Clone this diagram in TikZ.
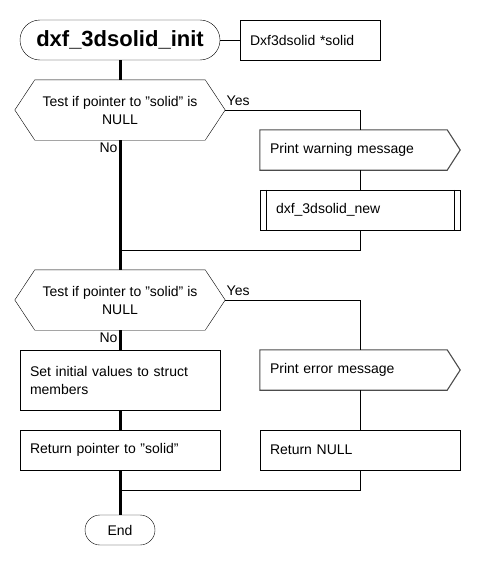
\documentclass[tikz,border=0pt]{standalone}
\usepackage{fontspec}
\setmainfont{Liberation Sans}
\usetikzlibrary{shapes.misc}
\usetikzlibrary {positioning}

\tikzset{
	terminal/.style={draw, rounded rectangle, inner sep=0pt},
	procbox/.style={draw, rectangle, minimum width=200pt, minimum height=40pt, text width=180pt, inner xsep=10pt, inner ysep=0pt, align=left},
	testbox/.style={rectangle, minimum width=210pt, minimum height=60pt, inner sep=0pt, align=center},
	msgbox/.style={rectangle, minimum width=200pt, minimum height=40pt, inner xsep=10pt, inner ysep=0pt, text width=180pt, align=left},
	msgline/.style={draw=black!70, line width=1.1pt},
	flow/.style={line width=3pt},
	link/.style={line width=1pt},
	branch/.style={inner sep=1pt, font=\fontsize{14}{16}\selectfont}
}

\begin{document}
\begin{tikzpicture}[x=1pt, y=-1pt, font=\fontsize{14}{18}\selectfont]
		\useasboundingbox (0,0) rectangle (480,570);
		% shapes
		\node[terminal, minimum width=200pt, minimum height=40pt, font=\fontsize{22}{26}\selectfont\bfseries] (start) at (120,40) {dxf\_3dsolid\_init}; %% function name
		\node[draw, minimum width=140pt, minimum height=40pt, text width=120pt, inner xsep=10pt, align=left] (arg) at (310,40) {Dxf3dsolid *solid}; %% argument
		\node[testbox] (test1) at (120,110) {Test if pointer to "solid" is\\NULL};
		\draw (test1.west) -- ([xshift=20pt]test1.north west) -- ([xshift=-20pt]test1.north east) -- (test1.east) -- ([xshift=-20pt]test1.south east) -- ([xshift=20pt]test1.south west) -- cycle; %% decision outline
		\node[msgbox] (warn) at (360,150) {Print warning message};
		\draw[msgline] (warn.north west) -- ([xshift=-13pt]warn.north east) -- (warn.east) -- ([xshift=-13pt]warn.south east) -- (warn.south west) -- cycle; %% display outline
		\node[procbox] (newsub) at (360,210) {\hspace*{6pt}dxf\_3dsolid\_new};
		\draw ([xshift=6pt]newsub.north west) -- ([xshift=6pt]newsub.south west); %% subroutine bars
		\draw ([xshift=-6pt]newsub.north east) -- ([xshift=-6pt]newsub.south east);
		\node[testbox] (test2) at (120,300) {Test if pointer to "solid" is\\NULL};
		\draw (test2.west) -- ([xshift=20pt]test2.north west) -- ([xshift=-20pt]test2.north east) -- (test2.east) -- ([xshift=-20pt]test2.south east) -- ([xshift=20pt]test2.south west) -- cycle;
		\node[msgbox] (err) at (360,370) {Print error message};
		\draw[msgline] (err.north west) -- ([xshift=-13pt]err.north east) -- (err.east) -- ([xshift=-13pt]err.south east) -- (err.south west) -- cycle;
		\node[procbox, minimum height=60pt] (init) at (120,380) {Set initial values to struct members};
		\node[procbox] (retptr) at (120,450) {Return pointer to "solid"};
		\node[procbox] (retnull) at (360,450) {Return NULL};
		\node[terminal, minimum width=70pt, minimum height=30pt] (finish) at (120,530) {End};
		\coordinate (join1) at (120,250);
		\coordinate (join2) at (120,490);
		% connectors
		\draw[link] (start.east) -- (arg.west);
		\draw[link] (test1.east) -| (warn.north) node[branch, pos=0, anchor=south west, yshift=3pt] {Yes};
		\draw[link] (warn.south) -- (newsub.north);
		\draw[link] (newsub.south) |- (join1);
		\draw[link] (test2.east) -| (err.north) node[branch, pos=0, anchor=south west, yshift=3pt] {Yes};
		\draw[link] (err.south) -- (retnull.north);
		\draw[link] (retnull.south) |- (join2);
		\draw[flow] (start.south) -- (test1.north);
		\draw[flow] (test1.south) -- (test2.north) node[branch, pos=0, anchor=north east] {No};
		\draw[flow] (test2.south) -- (init.north) node[branch, pos=0, anchor=north east] {No};
		\draw[flow] (init.south) -- (retptr.north);
		\draw[flow] (retptr.south) -- (finish.north);
	\end{tikzpicture}
\end{document}
